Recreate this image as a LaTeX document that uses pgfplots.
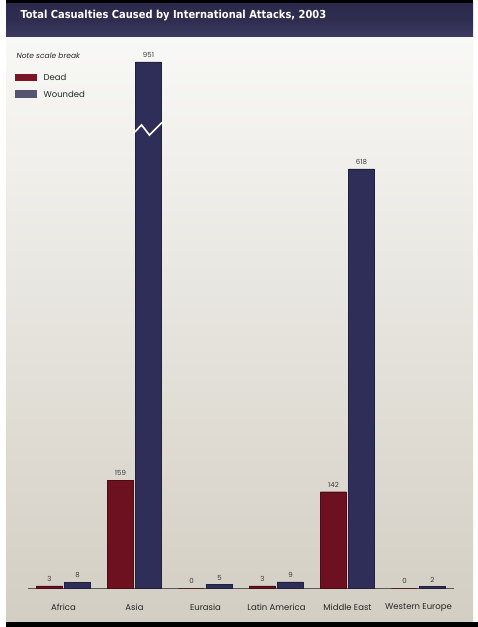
\documentclass[border=0pt]{standalone}
\usepackage{pgfplots}
\pgfplotsset{compat=1.18}
\usepackage{pgfplotstable}
\usepackage{fontspec}
\setmainfont{Poppins}
\newfontfamily\titlefont{DejaVu Sans Condensed}
\definecolor{deadc}{HTML}{6D1121}
\definecolor{woundc}{HTML}{2F2E58}
\definecolor{deadleg}{HTML}{7B1526}
\definecolor{woundleg}{HTML}{57546F}
\definecolor{band}{HTML}{2C2A4C}
\definecolor{bandlight}{HTML}{3E3B62}
\definecolor{bgtop}{HTML}{F8F8F6}
\definecolor{bgbot}{HTML}{D3CEC3}
\definecolor{txt}{HTML}{3A3A3A}

\pgfplotstableread{
x dead wounded wlabel
0 3 8 8
1 159 776 951
2 0 5 5
3 3 9 9
4 142 618 618
5 0 2 2
}\casualties

\begin{document}
\begin{tikzpicture}[x=1pt,y=1pt]
% page
\fill[white] (0,0) rectangle (478,627);
% body with gradient
\shade[top color=bgtop, bottom color=bgbot] (6,5) rectangle (473,590);
% title band
\shade[top color=band, bottom color=bandlight, middle color=band!85!bandlight] (6,590) rectangle (473,624);
\fill[black] (6,624) rectangle (473,627);
\fill[black] (6,0) rectangle (478,5);
\node[anchor=west, text=white, font=\titlefont\bfseries\fontsize{11}{12}\selectfont] at (17,611) {Total Casualties Caused by International Attacks, 2003};

% legend
\node[anchor=west, font=\itshape\fontsize{7.5}{9}\selectfont, text=black!85] at (13,571) {Note scale break};
\fill[deadleg] (15,546) rectangle (37,553);
\node[anchor=west, font=\fontsize{8.5}{10}\selectfont, text=black!85] at (40,550) {Dead};
\fill[woundleg] (15,529) rectangle (37,537);
\node[anchor=west, font=\fontsize{8.5}{10}\selectfont, text=black!85] at (40,533) {Wounded};

\begin{axis}[
  at={(28pt,39pt)}, anchor=south west,
  scale only axis, width=426pt, height=542.4pt,
  xmin=-0.5, xmax=5.5, ymin=0, ymax=800,
  axis x line*=bottom, axis y line=none,
  x axis line style={-, draw=black!65, line width=0.8pt},
  xtick={0,1,2,3,4,5},
  xticklabels={Africa,Asia,Eurasia,Latin America,Middle East,Western Europe},
  major tick length=0pt,
  xticklabel style={font=\fontsize{8.5}{10}\selectfont, text=black!85, yshift=-12pt},
  ybar, bar width=26pt,
  clip=false,
  nodes near coords,
  point meta=explicit symbolic,
  every node near coord/.append style={font=\fontsize{7}{8}\selectfont, text=txt, anchor=south, yshift=1pt},
]
\addplot[bar shift=-14pt, fill=deadc, draw=deadc!70!black, line width=0.4pt]
  table[x=x, y=dead, meta=dead] {\casualties};
\addplot[bar shift=14pt, fill=woundc, draw=woundc!70!black, line width=0.4pt]
  table[x=x, y=wounded, meta=wlabel] {\casualties};
% scale break on Asia wounded bar
\draw[white, line width=1.6pt] (axis cs:0.99,671) -- (axis cs:1.099,683) -- (axis cs:1.211,668) -- (axis cs:1.40,688);
\end{axis}
\end{tikzpicture}
\end{document}
